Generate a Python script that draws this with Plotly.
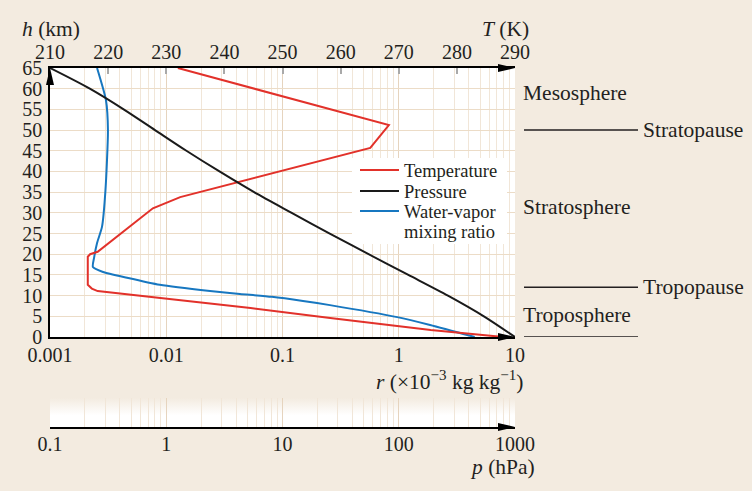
import base64
import plotly.graph_objects as go

# ---------------- data ----------------
temp_h = [0, 1.7, 4.6, 7.0, 9.4, 11.1, 11.7, 12.6, 19.4, 20.0, 20.6, 31.1, 33.8, 45.7, 51.2, 65]
temp_T = [288, 275.5, 258.2, 244.5, 229, 218.2, 217.2, 216.5, 216.5, 216.9, 218.2, 227.7, 232.4, 265.1, 268.3, 232]

pres_h = [0, 5, 10, 15, 20, 25, 30, 35, 40, 45, 50, 55, 60, 65]
pres_p = [1000, 540, 265, 121, 55, 25.5, 12, 5.7, 2.87, 1.49, 0.8, 0.43, 0.22, 0.1]

wv_h = [0, 2.9, 4.8, 7.7, 8.7, 9.7, 10.4, 11.1, 12.6, 14.3, 15.7, 16.9, 19.3, 22.7, 26.6, 35.5, 50, 57.2, 65]
wv_r = [4.5, 1.86, 0.97, 0.256, 0.15, 0.081, 0.043, 0.0238, 0.0088, 0.0046, 0.00286, 0.00234,
        0.0024, 0.00254, 0.0028, 0.0030, 0.00315, 0.00303, 0.00254]

h_ticks = list(range(0, 66, 5))
T_ticks = list(range(210, 291, 10))
r_ticks = [0.001, 0.01, 0.1, 1, 10]
r_labels = ["0.001", "0.01", "0.1", "1", "10"]
p_ticks = [0.1, 1, 10, 100, 1000]
p_labels = ["0.1", "1", "10", "100", "1000"]

layers = [("Mesosphere", 59.0), ("Stratosphere", 31.4), ("Troposphere", 5.3)]
bounds = [("Stratopause", 50), ("Tropopause", 12), ("", 0)]

series_names = ["Temperature", "Pressure", "Water-vapor<br>mixing ratio"]
series_colors = ["#e2312a", "#1a1a1a", "#1777c0"]

# ---------------- style ----------------
BG = "#f3ebe0"
FONT = "Liberation Serif"
TXT = "#231f20"
FS = 20
FS_TXT = 21.5
GRID_MAJ = "#e6d4be"
GRID_MIN = "#f1e6d8"
GRID_H = "#ecdcc7"

def minor_vals(lo_exp, hi_exp):
    out = []
    for e in range(lo_exp, hi_exp):
        for m in range(2, 10):
            out.append(m * 10 ** e)
    return out

fig = go.Figure()
fig.add_trace(go.Scatter(x=temp_T, y=temp_h, xaxis="x2", yaxis="y", mode="lines",
                         name=series_names[0], line=dict(color=series_colors[0], width=2)))
fig.add_trace(go.Scatter(x=pres_p, y=pres_h, xaxis="x4", yaxis="y", mode="lines",
                         name=series_names[1],
                         line=dict(color=series_colors[1], width=2, shape="spline", smoothing=0.8)))
fig.add_trace(go.Scatter(x=wv_r, y=wv_h, xaxis="x", yaxis="y", mode="lines",
                         name=series_names[2],
                         line=dict(color=series_colors[2], width=2, shape="spline", smoothing=0.6)))
# invisible trace that carries the separate pressure axis below the chart
fig.add_trace(go.Scatter(x=p_ticks, y=[0.5] * len(p_ticks), xaxis="x3", yaxis="y2", mode="markers",
                         marker=dict(opacity=0), showlegend=False, hoverinfo="skip"))

XD = [50 / 752, 515 / 752]
YD = [(491 - 337) / 491, (491 - 68) / 491]
BD = [(491 - 427) / 491, (491 - 398) / 491]

axfont = dict(family=FONT, size=FS, color=TXT)
txtfont = dict(family=FONT, size=FS_TXT, color=TXT)

fig.update_layout(
    width=752, height=491,
    margin=dict(l=0, r=0, t=0, b=0, autoexpand=False),
    paper_bgcolor=BG, plot_bgcolor="white",
    font=axfont,
    showlegend=False,
    xaxis=dict(type="log", range=[-3, 1], domain=XD, anchor="y",
               tickvals=r_ticks, ticktext=r_labels, ticks="", tickfont=axfont,
               showline=True, linecolor="black", linewidth=1.5,
               showgrid=True, gridcolor=GRID_MAJ, gridwidth=1,
               minor=dict(tickvals=minor_vals(-3, 1), showgrid=True, gridcolor=GRID_MIN, ticks=""),
               zeroline=False, ticklabelstandoff=-1),
    xaxis2=dict(range=[210, 290], overlaying="x", side="top", anchor="y",
                tickvals=T_ticks, ticks="inside", ticklen=6, tickwidth=1.5, tickcolor="#a9a9a9",
                tickfont=axfont, showline=True, linecolor="black", linewidth=1.5,
                showgrid=False, zeroline=False, ticklabelstandoff=-1),
    xaxis4=dict(type="log", range=[-1, 3], overlaying="x", anchor="y", visible=False,
                showgrid=False, zeroline=False),
    xaxis3=dict(type="log", range=[-1, 3], domain=XD, anchor="y2",
                tickvals=p_ticks, ticktext=p_labels, ticks="", tickfont=axfont,
                showline=True, linecolor="black", linewidth=1.5,
                showgrid=True, gridcolor=GRID_MAJ, gridwidth=1,
                minor=dict(tickvals=minor_vals(-1, 3), showgrid=True, gridcolor=GRID_MIN, ticks=""),
                zeroline=False, ticklabelstandoff=-2),
    yaxis=dict(range=[0, 65], domain=YD, anchor="x", tickvals=h_ticks, ticks="",
               tickfont=axfont, showline=True, linecolor="black", linewidth=1.5,
               showgrid=True, gridcolor=GRID_H, gridwidth=1, zeroline=False, ticklabelstandoff=2),
    yaxis2=dict(range=[0, 1], domain=BD, anchor="x3", showticklabels=False, ticks="",
                showline=False, showgrid=False, zeroline=False),
)

# gradient band behind the pressure axis
svg = ('<svg xmlns="http://www.w3.org/2000/svg" width="10" height="100" preserveAspectRatio="none">'
       '<defs><linearGradient id="g" x1="0" y1="0" x2="0" y2="1">'
       '<stop offset="0" stop-color="%s"/><stop offset="0.6" stop-color="#ffffff"/>'
       '<stop offset="1" stop-color="#ffffff"/></linearGradient></defs>'
       '<rect width="10" height="100" fill="url(#g)"/></svg>') % BG
uri = "data:image/svg+xml;base64," + base64.b64encode(svg.encode()).decode()
fig.add_layout_image(dict(source=uri, xref="x3 domain", yref="y2 domain", x=0, y=1,
                          sizex=1, sizey=1, sizing="stretch", xanchor="left", yanchor="top",
                          layer="below"))

# arrow heads at axis ends
def arrow(xref, yref, xa, ya, path):
    fig.add_shape(type="path", xref=xref, yref=yref, xsizemode="pixel", ysizemode="pixel",
                  xanchor=xa, yanchor=ya, path=path, fillcolor="black",
                  line=dict(width=0), layer="above")

RIGHT = "M-17,-4L0,0L-17,4Z"
UP = "M-4,-17L0,0L4,-17Z"
arrow("x domain", "y domain", 1, 1, RIGHT)
arrow("x domain", "y domain", 1, 0, RIGHT)
arrow("x domain", "y domain", 0, 1, UP)
arrow("x3 domain", "y2 domain", 1, 0, RIGHT)

# legend box (drawn by hand to match the compact spacing)
def px(x):
    return x / 752

def py(y):
    return (491 - y) / 491

fig.add_shape(type="rect", xref="paper", yref="paper", x0=px(352), x1=px(507), y0=py(244), y1=py(158),
              fillcolor="white", line=dict(width=0), layer="above")
key_rows = [170, 191, 211]
for name, col, yy in zip(series_names, series_colors, key_rows):
    fig.add_shape(type="line", xref="paper", yref="paper", x0=px(360), x1=px(399), y0=py(yy), y1=py(yy),
                  line=dict(color=col, width=2), layer="above")
    for k, part in enumerate(name.split("<br>")):
        fig.add_annotation(text=part, xref="paper", yref="paper", x=px(402), y=py(yy + 1 + 20 * k),
                           xanchor="left", yanchor="middle", showarrow=False,
                           font=dict(family=FONT, size=18.5, color=TXT))

# atmospheric layer boundaries and names
for name, hb in bounds:
    fig.add_shape(type="line", xref="paper", yref="y", x0=px(524), x1=px(638), y0=hb, y1=hb,
                  line=dict(color="#231f20", width=1.5))
    if name:
        fig.add_annotation(text=name, xref="paper", yref="y", x=px(641), y=hb,
                           xanchor="left", yanchor="middle", showarrow=False, font=txtfont)
for name, hl in layers:
    fig.add_annotation(text=name, xref="paper", yref="y", x=px(521), y=hl,
                       xanchor="left", yanchor="middle", showarrow=False, font=txtfont)

# axis titles
def label(text, x, y, xanchor):
    fig.add_annotation(text=text, xref="paper", yref="paper", x=px(x), y=py(y),
                       xanchor=xanchor, yanchor="middle", showarrow=False, font=txtfont)

label("<i>h</i> (km)", 20, 29, "left")
label("<i>T</i> (K)", 531, 29, "right")
label("<i>r</i> (×10<sup>−3</sup> kg kg<sup>−1</sup>)", 526, 380, "right")
label("<i>p</i> (hPa)", 537, 467, "right")

fig.write_html("out.html")
